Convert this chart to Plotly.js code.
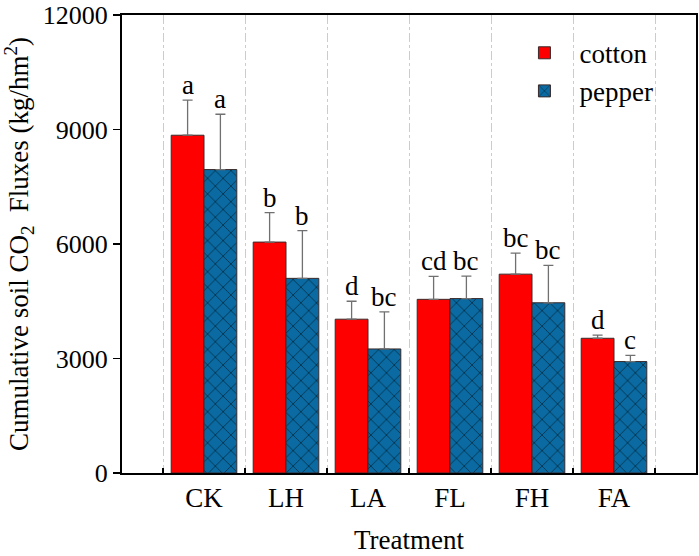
<!DOCTYPE html>
<html>
<head>
<meta charset="utf-8">
<script src="https://cdn.plot.ly/plotly-3.0.1.min.js"></script>
<style>html,body{margin:0;padding:0;background:#fff;}#chart{width:699px;height:556px;}</style>
</head>
<body>
<div id="chart"></div>
<script>
const treatments = ["CK", "LH", "LA", "FL", "FH", "FA"];
const cottonValues = [8850, 6050, 4030, 4550, 5210, 3530];
const cottonErrors = [920, 770, 470, 600, 550, 80];
const pepperValues = [7950, 5100, 3250, 4570, 4460, 2920];
const pepperErrors = [1450, 1250, 970, 590, 980, 160];
const cottonLetters = ["a", "b", "d", "cd", "bc", "d"];
const pepperLetters = ["a", "b", "bc", "bc", "bc", "c"];
const yTicks = [0, 3000, 6000, 9000, 12000];

const FONT = "Liberation Serif, Times New Roman, serif";
const barLine = {color: "#3a2a2a", width: 1};

const cotton = {
  type: "bar", name: "cotton", x: treatments, y: cottonValues,
  marker: {color: "#ff0000", line: barLine},
  error_y: {type: "data", array: cottonErrors, arrayminus: cottonErrors.map(() => 0),
            symmetric: false, color: "#707070", thickness: 1.3, width: 5}
};
const pepper = {
  type: "bar", name: "pepper", x: treatments, y: pepperValues,
  marker: {color: "#0a6aa1", line: barLine,
           pattern: {shape: "x", fgcolor: "#000000", bgcolor: "#0a6aa1", size: 11, solidity: 0.16, fillmode: "overlay"}},
  error_y: {type: "data", array: pepperErrors, arrayminus: pepperErrors.map(() => 0),
            symmetric: false, color: "#707070", thickness: 1.3, width: 5}
};

const annotations = [];
treatments.forEach((t, i) => {
  annotations.push({x: i - 0.2, y: cottonValues[i] + cottonErrors[i], xref: "x", yref: "y",
    text: cottonLetters[i], showarrow: false, yanchor: "bottom", yshift: -2,
    font: {family: FONT, size: 27, color: "#000"}});
  annotations.push({x: i + 0.2, y: pepperValues[i] + pepperErrors[i], xref: "x", yref: "y",
    text: pepperLetters[i], showarrow: false, yanchor: "bottom", yshift: -2,
    font: {family: FONT, size: 27, color: "#000"}});
});

const layout = {
  width: 699, height: 556,
  margin: {l: 122, r: 3, t: 15, b: 83},
  paper_bgcolor: "#fff", plot_bgcolor: "#fff",
  font: {family: FONT, size: 27, color: "#000"},
  barmode: "group", bargap: 0.2, bargroupgap: 0,
  showlegend: true,
  legend: {x: 0.675, y: 0.97, xanchor: "left", yanchor: "top",
           font: {family: FONT, size: 27, color: "#000"}, bgcolor: "rgba(0,0,0,0)",
           itemwidth: 60, tracegroupgap: 0},
  xaxis: {
    type: "category", range: [-1, 6], tickson: "boundaries",
    showgrid: true, gridcolor: "#cccccc", griddash: "dashdot", gridwidth: 1,
    ticks: "inside", ticklen: 5, tickcolor: "#000", tickwidth: 1.5,
    showline: true, linecolor: "#000", linewidth: 2, mirror: true,
    tickfont: {family: FONT, size: 27},
    title: {text: "Treatment", font: {family: FONT, size: 27}, standoff: 18}
  },
  yaxis: {
    range: [0, 12000], tickvals: yTicks, ticktext: yTicks.map(String),
    showgrid: false, zeroline: false, ticklabeloverflow: "allow",
    ticks: "outside", ticklen: 7, tickcolor: "#000", tickwidth: 1.5,
    showline: true, linecolor: "#000", linewidth: 2, mirror: true,
    tickfont: {family: FONT, size: 26},
    title: {text: "Cumulative soil CO<sub>2</sub>\u00a0 Fluxes (kg/hm<sup>2</sup>)", font: {family: FONT, size: 27}, standoff: 8}
  },
  annotations: annotations
};

Plotly.newPlot("chart", [cotton, pepper], layout, {displayModeBar: false, staticPlot: true});
</script>
</body>
</html>
